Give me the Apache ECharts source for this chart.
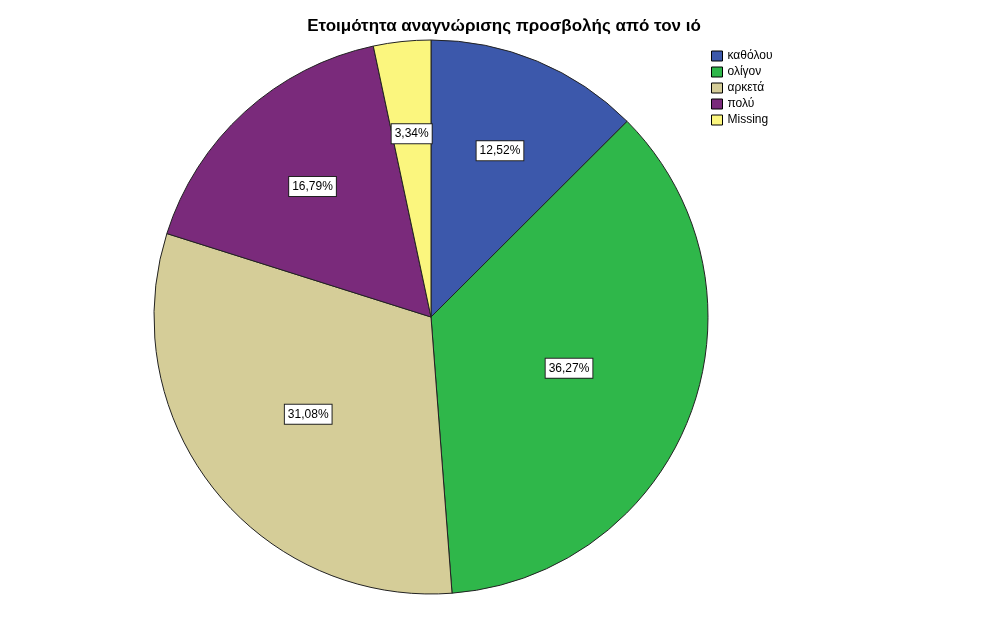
<!DOCTYPE html>
<html>
<head>
<meta charset="utf-8">
<script src="https://cdn.jsdelivr.net/npm/echarts@6/dist/echarts.min.js"></script>
<style>html,body{margin:0;padding:0;background:#fff}#c{width:982px;height:617px}</style>
</head>
<body>
<div id="c"></div>
<script>
const title = 'Ετοιμότητα αναγνώρισης προσβολής από τον ιό';
const categories = ['καθόλου', 'ολίγον', 'αρκετά', 'πολύ', 'Missing'];
const values = [12.52, 36.27, 31.08, 16.79, 3.34];
const colors = ['#3c58ab', '#2fb74a', '#d5cd98', '#7a2a7b', '#fbf67e'];

const W = 982, H = 617;
const CX = 431, CY = 317, R = 277;
const total = values.reduce((a, b) => a + b, 0);

const chart = echarts.init(document.getElementById('c'), null, {renderer: 'canvas'});
chart.setOption({
  backgroundColor: '#fff',
  animation: false,
  title: {
    text: title,
    left: 499, top: 13, textAlign: 'center',
    textStyle: {fontFamily: 'Liberation Sans, Arial, sans-serif', fontSize: 17, fontWeight: 'bold', color: '#000'}
  },
  legend: {
    orient: 'vertical', left: 711, top: 50, padding: 0,
    itemWidth: 11, itemHeight: 10, itemGap: 4,
    icon: 'rect',
    itemStyle: {borderColor: '#000', borderWidth: 1},
    textStyle: {fontFamily: 'Liberation Sans, Arial, sans-serif', fontSize: 12, lineHeight: 10, color: '#000'},
    data: categories
  },
  series: [{
    type: 'pie',
    center: [CX / W * 100 + '%', CY / H * 100 + '%'],
    radius: R,
    startAngle: 90,
    clockwise: true,
    avoidLabelOverlap: false,
    data: categories.map((c, i) => ({name: c, value: values[i], itemStyle: {color: colors[i]}})),
    itemStyle: {borderColor: '#222', borderWidth: 1},
    emphasis: {disabled: true},
    labelLine: {show: false},
    label: {
      show: true, position: 'inside',
      formatter: p => p.value.toFixed(2).replace('.', ',') + '%',
      fontFamily: 'Liberation Sans, Arial, sans-serif', fontSize: 12, color: '#000',
      backgroundColor: '#fff', borderColor: '#222', borderWidth: 1,
      padding: [4, 3, 3, 3]
    },
    labelLayout: function (params) {
      const i = params.dataIndex;
      let start = 0;
      for (let k = 0; k < i; k++) start += values[k];
      const a0 = start / total * 2 * Math.PI;
      const alpha = values[i] / total * 2 * Math.PI;
      const mid = a0 + alpha / 2;
      const d = 4 * R * Math.sin(alpha / 2) / (3 * alpha);
      return {x: CX + d * Math.sin(mid), y: CY - d * Math.cos(mid), align: 'center', verticalAlign: 'middle'};
    }
  }]
});
</script>
</body>
</html>
